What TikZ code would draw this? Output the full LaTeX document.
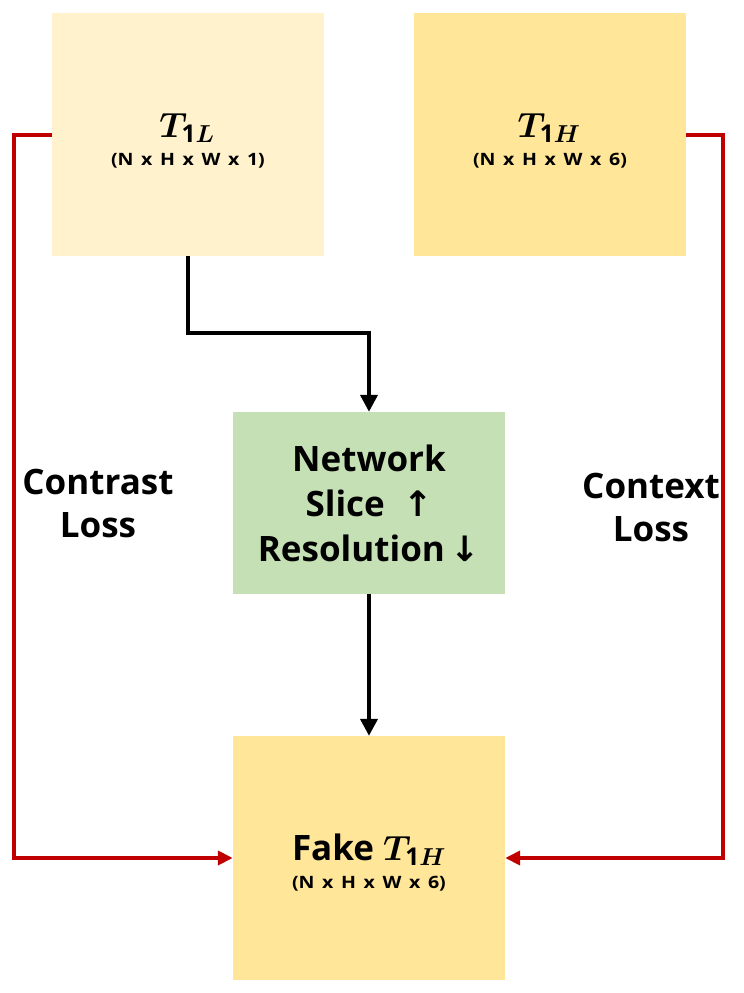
\RequirePackage{fix-cm}
\documentclass[tikz,border=0pt]{standalone}
\usepackage{amsmath,bm}
\usepackage{fontspec}
\setmainfont{Open Sans}
\newfontfamily\subfont[FakeStretch=1.15,WordSpace=1.5]{Open Sans}
\newfontfamily\arrowfont{DejaVu Sans}
\usetikzlibrary{arrows.meta}
\definecolor{lightyellow}{HTML}{FFF2CC}
\definecolor{darkyellow}{HTML}{FFE699}
\definecolor{lightgreen}{HTML}{C5E0B4}
\definecolor{lossred}{HTML}{C00000}
\tikzset{
  box/.style={minimum width=272pt, inner sep=0pt, align=center, text=black},
  bigtext/.style={font=\fontsize{35}{43}\selectfont\bfseries, align=center, inner sep=0pt},
  mathtext/.style={font=\fontsize{35}{40}\selectfont, anchor=base, inner sep=0pt},
  subtext/.style={font=\subfont\fontsize{17}{19}\selectfont\bfseries, anchor=base, inner sep=0pt},
  blackline/.style={line width=4pt, draw=black, -{Triangle[width=17pt,length=17pt]}},
  redline/.style={line width=4pt, draw=lossred, -{Triangle[width=14pt,length=15pt]}},
}
\begin{document}
\begin{tikzpicture}[x=1pt,y=-1pt]
\useasboundingbox (0,0) rectangle (744,993);
\node[box, fill=lightyellow, minimum height=243pt] (t1l) at (188,134.5) {};
\node[box, fill=darkyellow, minimum height=243pt] (t1h) at (550,134.5) {};
\node[box, fill=lightgreen, minimum height=182pt, font=\fontsize{35}{45}\selectfont\bfseries] (net) at (369,503)
  {Network\\Slice\ \ {\arrowfont↑}\\Resolution\,{\arrowfont↓}};
\node[box, fill=darkyellow, minimum height=244pt] (fake) at (369,858) {};
% texts in the boxes
\node[mathtext] (t1ltitle) at (187,137) {$\boldsymbol{T}_{\mathbf{1}\boldsymbol{L}}$};
\node[subtext] (t1lsize) at (188,165) {(N x H x W x 1)};
\node[mathtext] (t1htitle) at (549,137) {$\boldsymbol{T}_{\mathbf{1}\boldsymbol{H}}$};
\node[subtext] (t1hsize) at (550,165) {(N x H x W x 6)};
\node[mathtext] (faketitle) at (369,860) {{\fontsize{35}{40}\selectfont\bfseries Fake} $\boldsymbol{T}_{\mathbf{1}\boldsymbol{H}}$};
\node[subtext] (fakesize) at (369,888) {(N x H x W x 6)};
% loss labels
\node[bigtext] (contrast) at (98,503) {Contrast\\Loss};
\node[bigtext] (context) at (651,507) {Context\\Loss};
% connectors
\draw[blackline] (t1l.south) -- ++(0,77) -| (net.north);
\draw[blackline] (net.south) -- (fake.north);
\draw[redline] (t1l.west) -- ++(-38,0) |- (fake.west);
\draw[redline] (t1h.east) -- ++(37,0) |- (fake.east);
\end{tikzpicture}
\end{document}
